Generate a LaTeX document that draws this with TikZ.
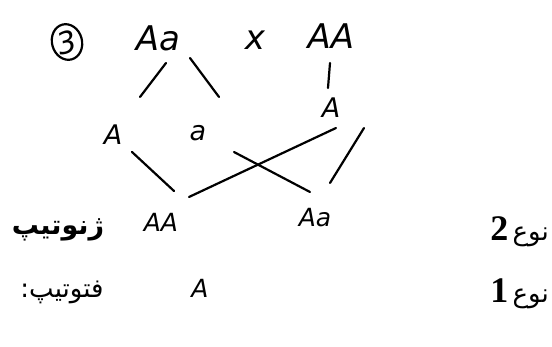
\documentclass[tikz,border=0pt]{standalone}
\usepackage{fontspec}
\usetikzlibrary{shapes.geometric}
\newfontfamily\arabicfont[Script=Arabic]{DejaVu Sans}
\newfontfamily\handfont{DejaVu Sans}
\newfontfamily\digitfont{Liberation Serif}
\TeXXeTstate=1

\tikzset{
  parent/.style={font=\handfont\itshape\fontsize{34}{38}\selectfont, inner sep=0pt},
  allele/.style={font=\handfont\itshape\fontsize{27}{30}\selectfont, inner sep=0pt},
  child/.style={font=\handfont\itshape\fontsize{25}{28}\selectfont, inner sep=0pt},
  cross/.style={line width=2.2pt, line cap=round},
  farsi/.style={font=\arabicfont\fontsize{26}{30}\selectfont, inner sep=0pt},
}
\newcommand\bignum[1]{{\digitfont\bfseries\fontsize{36}{36}\selectfont #1}}

\begin{document}
\begin{tikzpicture}[x=1pt, y=-1pt]
  \useasboundingbox (0,0) rectangle (552,347);

  % problem number and parents
  \node[ellipse, draw, line width=2.2pt, minimum width=30pt, minimum height=36pt,
        inner sep=0pt, rotate=15, font=\handfont\itshape\fontsize{30}{30}\selectfont] (num) at (67,42) {3};
  \node[parent] (p1) at (158,38) {Aa};
  \node[parent] (times) at (255,40) {x};
  \node[parent] (p2) at (331,36) {AA};

  % gametes
  \node[allele] (g1) at (113,135) {A};
  \node[allele] (g2) at (198,133) {a};
  \node[allele] (g3) at (331,108) {A};

  % offspring
  \node[child] (c1) at (161,222) {AA};
  \node[child] (c2) at (315,218) {Aa};

  \draw[cross] ([shift={(8,25)}]p1.center) -- ([shift={(27,-38)}]g1.center);
  \draw[cross] ([shift={(32,20)}]p1.center) -- ([shift={(21,-36)}]g2.center);
  \draw[cross] ([shift={(-1,27)}]p2.center) -- ([shift={(-3,-20)}]g3.center);
  \draw[cross] ([shift={(19,17)}]g1.center) -- ([shift={(13,-31)}]c1.center);
  \draw[cross] ([shift={(28,-25)}]c1.center) -- ([shift={(5,20)}]g3.center);
  \draw[cross] ([shift={(36,19)}]g2.center) -- ([shift={(-5,-26)}]c2.center);
  \draw[cross] ([shift={(33,20)}]g3.center) -- ([shift={(15,-35)}]c2.center);

  % labels
  \node[farsi, font=\arabicfont\bfseries\fontsize{27}{30}\selectfont] (geno) at (58,230) {\beginR ژنوتیپ\endR};
  \node[farsi, anchor=east] (n2) at (549,232) {\bignum{2}\,\beginR نوع\endR};
  \node[farsi] (pheno) at (62,292) {:\beginR فتوتیپ\endR};
  \node[child] (ph) at (200,288) {A};
  \node[farsi, anchor=east] (n1) at (549,294) {\bignum{1}\,\beginR نوع\endR};
\end{tikzpicture}
\end{document}
